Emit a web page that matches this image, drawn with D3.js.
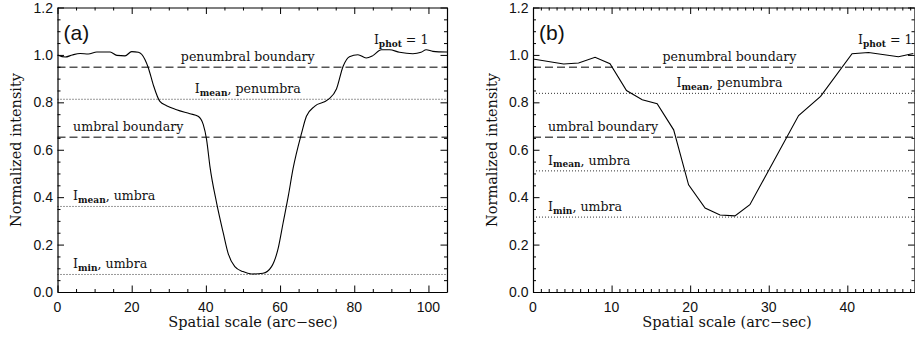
<!DOCTYPE html>
<html>
<head>
<meta charset="utf-8">
<script src="https://cdn.jsdelivr.net/npm/d3@7"></script>
<style>
  body { margin: 0; background: #fff; }
  svg { display: block; }
</style>
</head>
<body>
<svg id="chart" width="915" height="338"></svg>
<script>
// Panel (a): intensity cut across the large spot
const scaleA = [0, 2.1, 4, 6.1, 8.3, 10.6, 14.2, 16, 18.2, 20, 21.8, 23.6, 24.5, 25.8, 27.6, 29.4,
  32.1, 35.7, 37.9, 39.3, 40.2, 41.1, 42.9, 44.7, 46, 47.8, 50, 52.3, 55.4, 57.7, 59.5, 60.8,
  62.2, 63.5, 65.8, 67.1, 69.3, 72.9, 75.2, 77, 78.7, 81, 83.2, 85, 87.3, 89.5, 92.2, 95.8,
  98, 99.4, 101.2, 105];
const intensityA = [1.0, 0.991, 1.0, 1.006, 1.004, 1.012, 1.012, 0.998, 0.996, 1.014, 1.011, 0.98,
  0.945, 0.875, 0.804, 0.786, 0.769, 0.752, 0.741, 0.706, 0.642, 0.529, 0.375, 0.248, 0.163,
  0.107, 0.086, 0.076, 0.079, 0.107, 0.185, 0.29, 0.403, 0.52, 0.67, 0.741, 0.783, 0.811,
  0.856, 0.952, 0.992, 1.001, 0.987, 0.997, 1.022, 1.022, 1.011, 1.005, 1.011, 1.022, 1.015, 1.012];

// Panel (b): intensity cut across the small spot
const scaleB = [0, 3.9, 5.8, 7.9, 9.8, 11.9, 13.9, 15.8, 17.9, 19.8, 21.9, 23.8, 25.7, 27.6,
  33.8, 36.6, 40.6, 42.7, 46.5, 48.4];
const intensityB = [0.983, 0.962, 0.966, 0.99, 0.963, 0.85, 0.811, 0.794, 0.684, 0.452, 0.354,
  0.325, 0.321, 0.368, 0.744, 0.825, 1.005, 1.01, 0.992, 1.006];

// Threshold levels: penumbral boundary, mean penumbra, umbral boundary, mean umbra, min umbra
const levelKinds = ["boundary", "mean", "boundary", "mean", "mean"];
const levelsA = [0.95, 0.815, 0.655, 0.363, 0.076];
const levelsB = [0.95, 0.84, 0.655, 0.513, 0.318];
const levelTexts = [
  ["penumbral boundary"],
  ["I", "mean", ", penumbra"],
  ["umbral boundary"],
  ["I", "mean", ", umbra"],
  ["I", "min", ", umbra"]
];

const yTickValues = [0, 0.2, 0.4, 0.6, 0.8, 1.0, 1.2];
const xTicksA = [0, 20, 40, 60, 80, 100];
const xTicksB = [0, 10, 20, 30, 40];

const svg = d3.select("#chart");
const serif = "'DejaVu Serif', serif";
const sans = "'Liberation Sans', Arial, sans-serif";

function drawPanel(p) {
  const x = d3.scaleLinear().domain(p.xDomain).range(p.xRange);
  const y = d3.scaleLinear().domain([0, 1.2]).range([292, 7.5]);
  const g = svg.append("g");
  const [x0, x1] = p.xRange;

  // clipping for the data curve
  const clipId = "clip-" + p.name;
  svg.append("clipPath").attr("id", clipId)
    .append("rect").attr("x", x0).attr("y", y(1.2)).attr("width", x1 - x0).attr("height", y(0) - y(1.2));

  // reference levels
  g.selectAll("line.level").data(p.levels).join("line")
    .attr("class", "level")
    .attr("x1", x0).attr("x2", x1)
    .attr("y1", d => y(d) + 0.5).attr("y2", d => y(d) + 0.5)
    .attr("stroke", (d, i) => levelKinds[i] === "boundary" ? "#555" : "#333")
    .attr("stroke-width", (d, i) => levelKinds[i] === "boundary" ? 1.6 : 1)
    .attr("stroke-dasharray", (d, i) => levelKinds[i] === "boundary" ? "8,4" : "1,2");

  // level labels
  p.levels.forEach((v, i) => {
    const parts = levelTexts[i];
    const t = g.append("text")
      .attr("y", y(v) - 5.5)
      .attr("font-family", serif).attr("font-size", 12.6).attr("fill", "#111");
    if (i <= 1) {
      t.attr("x", x(p.labelCenter)).attr("text-anchor", "middle");
    } else {
      t.attr("x", x(p.labelLeft)).attr("text-anchor", "start");
    }
    if (parts.length === 1) {
      t.text(parts[0]);
    } else {
      t.append("tspan").text(parts[0]);
      t.append("tspan").attr("font-size", 9).attr("font-weight", "bold").attr("dy", 2.5).text(parts[1]);
      t.append("tspan").attr("dy", -2.5).text(parts[2]);
    }
  });

  // I_phot = 1
  const tp = g.append("text").attr("x", x(p.photEnd)).attr("y", 44)
    .attr("text-anchor", "end").attr("font-family", serif).attr("font-size", 12.6).attr("fill", "#111");
  tp.append("tspan").text("I");
  tp.append("tspan").attr("font-size", 9).attr("font-weight", "bold").attr("dy", 2.5).text("phot");
  tp.append("tspan").attr("dy", -2.5).text(" = 1");

  // profile curve
  const pts = p.xs.map((d, i) => [d, p.ys[i]]);
  g.append("path").datum(pts)
    .attr("clip-path", `url(#${clipId})`)
    .attr("fill", "none").attr("stroke", "#000").attr("stroke-width", 1.1)
    .attr("d", d3.line().x(d => x(d[0])).y(d => y(d[1])).curve(p.curve)(pts));

  // axes on all four sides, ticks pointing inward
  const xMinor = d3.range(p.xDomain[0], p.xDomain[1] + 1e-9, p.xMinorStep);
  const yMinor = d3.range(0, 1.2 + 1e-9, 0.05);
  const isMajorX = v => Math.abs(v / p.xMajorStep - Math.round(v / p.xMajorStep)) < 1e-6;
  const isMajorY = v => Math.abs(v / 0.2 - Math.round(v / 0.2)) < 1e-6;

  const axBottom = d3.axisBottom(x).tickValues(xMinor).tickSizeInner(0).tickSizeOuter(0).tickFormat("");
  const axTop = d3.axisTop(x).tickValues(xMinor).tickSizeInner(0).tickSizeOuter(0).tickFormat("");
  const axLeft = d3.axisLeft(y).tickValues(yMinor).tickSizeInner(0).tickSizeOuter(0).tickFormat("");
  const axRight = d3.axisRight(y).tickValues(yMinor).tickSizeInner(0).tickSizeOuter(0).tickFormat("");

  const frame = [
    [axBottom, `translate(0,${y(0)})`, "x", -1],
    [axTop, `translate(0,${y(1.2)})`, "x", 1],
    [axLeft, `translate(${x0},0)`, "y", 1],
    [axRight, `translate(${x1},0)`, "y", -1]
  ];
  frame.forEach(([ax, tr, dim, dir]) => {
    const a = g.append("g").attr("transform", tr).call(ax);
    a.select(".domain").attr("stroke", "#000").attr("stroke-width", 1.2);
    a.selectAll(".tick line")
      .attr("stroke", "#000")
      .each(function (d) {
        const major = dim === "x" ? isMajorX(d) : isMajorY(d);
        const len = (major ? 6.5 : 3) * dir;
        if (dim === "x") d3.select(this).attr("y2", len);
        else d3.select(this).attr("x2", len);
      });
  });

  // tick labels
  g.selectAll("text.xt").data(p.xTicks).join("text").attr("class", "xt")
    .attr("x", d => x(d)).attr("y", 312).attr("text-anchor", "middle")
    .attr("font-family", sans).attr("font-size", 14).attr("fill", "#111")
    .text(d => d3.format("d")(d));
  g.selectAll("text.yt").data(yTickValues).join("text").attr("class", "yt")
    .attr("x", x0 - 4.5).attr("y", d => y(d) + 5).attr("text-anchor", "end")
    .attr("font-family", sans).attr("font-size", 14).attr("fill", "#111")
    .text(d => d3.format(".1f")(d));

  // axis titles
  g.append("text").attr("x", p.xTitleX).attr("y", 327).attr("text-anchor", "middle")
    .attr("font-family", serif).attr("font-size", 14.5).attr("fill", "#111")
    .text("Spatial scale (arc\u2212sec)");
  g.append("text").attr("transform", `translate(${p.yTitleX},150) rotate(-90)`)
    .attr("text-anchor", "middle")
    .attr("font-family", serif).attr("font-size", 14.5).attr("fill", "#111")
    .text("Normalized intensity");

  // panel tag
  g.append("text").attr("x", x0 + 6).attr("y", 40)
    .attr("font-family", sans).attr("font-size", 21).attr("fill", "#111")
    .text(p.tag);
}

drawPanel({
  name: "a", tag: "(a)",
  xs: scaleA, ys: intensityA, levels: levelsA,
  xDomain: [0, 105], xRange: [57.5, 447], xTicks: xTicksA,
  xMajorStep: 20, xMinorStep: 5,
  curve: d3.curveMonotoneX,
  labelCenter: 51.3, labelLeft: 4.2, photEnd: 100,
  xTitleX: 253, yTitleX: 21
});

drawPanel({
  name: "b", tag: "(b)",
  xs: scaleB, ys: intensityB, levels: levelsB,
  xDomain: [0, 48.55], xRange: [533, 914.5], xTicks: xTicksB,
  xMajorStep: 10, xMinorStep: 1,
  curve: d3.curveLinear,
  labelCenter: 25, labelLeft: 1.9, photEnd: 48.3,
  xTitleX: 727, yTitleX: 497
});
</script>
</body>
</html>
